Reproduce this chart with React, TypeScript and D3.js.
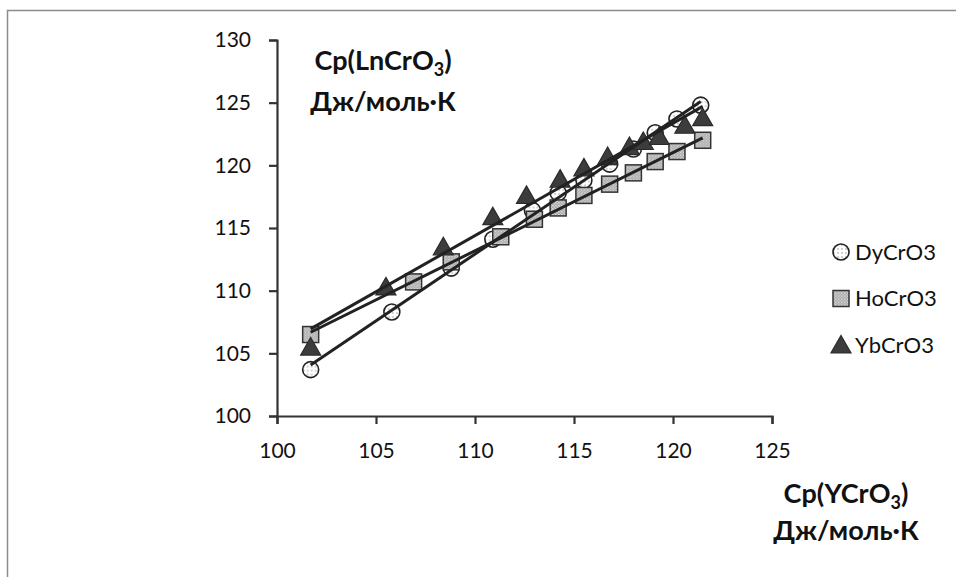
import React, { useEffect, useRef } from 'react';
import * as d3 from 'd3';

// Cp(YCrO3) on x, Cp(LnCrO3) on y
const dyX = [101.7, 105.8, 108.8, 110.9, 112.9, 114.2, 115.5, 116.8, 118.0, 119.1, 120.2, 121.4];
const dyY = [103.7, 108.3, 111.8, 114.1, 116.4, 117.8, 118.8, 120.1, 121.3, 122.6, 123.7, 124.8];

const hoX = [101.7, 106.9, 108.8, 111.3, 113.0, 114.2, 115.5, 116.8, 118.0, 119.1, 120.2, 121.5];
const hoY = [106.5, 110.7, 112.3, 114.3, 115.7, 116.6, 117.6, 118.5, 119.4, 120.3, 121.1, 122.0];

const ybX = [101.7, 105.5, 108.4, 110.9, 112.6, 114.3, 115.5, 116.7, 117.8, 118.5, 119.3, 120.6, 121.5];
const ybY = [105.5, 110.3, 113.5, 115.9, 117.6, 118.9, 119.8, 120.7, 121.5, 121.9, 122.3, 123.2, 123.8];

const seriesNames = ['DyCrO3', 'HoCrO3', 'YbCrO3'];
const xTicks = [100, 105, 110, 115, 120, 125];
const yTicks = [100, 105, 110, 115, 120, 125, 130];

const font = 'Lato, "Open Sans", sans-serif';

// least squares line, like the excel trendline
function fit(xs: number[], ys: number[]) {
  const mx = d3.mean(xs) as number;
  const my = d3.mean(ys) as number;
  let num = 0;
  let den = 0;
  xs.forEach((x, i) => {
    num += (x - mx) * (ys[i] - my);
    den += (x - mx) * (x - mx);
  });
  const b = num / den;
  const a = my - b * mx;
  const x0 = d3.min(xs) as number;
  const x1 = d3.max(xs) as number;
  return [[x0, a + b * x0], [x1, a + b * x1]];
}

const App = () => {
  const svgRef = useRef<SVGSVGElement>(null);

  useEffect(() => {
    const svg = d3.select(svgRef.current);
    svg.selectAll('*').remove();

    const width = 956;
    const height = 577;

    const x = d3.scaleLinear().domain([100, 125]).range([277, 772]);
    const y = d3.scaleLinear().domain([100, 130]).range([416, 40]);

    // patterns for markers
    const defs = svg.append('defs');
    const dots = defs.append('pattern')
      .attr('id', 'dots')
      .attr('patternUnits', 'userSpaceOnUse')
      .attr('width', 4).attr('height', 4);
    dots.append('rect').attr('width', 4).attr('height', 4).attr('fill', '#fff');
    dots.append('circle').attr('cx', 1).attr('cy', 1).attr('r', 0.8).attr('fill', '#9a9a9a');

    const check = defs.append('pattern')
      .attr('id', 'check')
      .attr('patternUnits', 'userSpaceOnUse')
      .attr('width', 3).attr('height', 3);
    check.append('rect').attr('width', 3).attr('height', 3).attr('fill', '#9c9c9c');
    check.append('rect').attr('width', 1.5).attr('height', 1.5).attr('fill', '#e6e6e6');
    check.append('rect').attr('x', 1.5).attr('y', 1.5).attr('width', 1.5).attr('height', 1.5).attr('fill', '#d0d0d0');

    // outer frame
    svg.append('rect')
      .attr('x', 7.5).attr('y', 10.5)
      .attr('width', width + 20).attr('height', height + 20)
      .attr('fill', 'none')
      .attr('stroke', '#8c8c8c')
      .attr('stroke-width', 1.5);

    // axes
    const yAxis = svg.append('g').attr('transform', `translate(${x(100)},0)`)
      .call(d3.axisLeft(y).tickValues(yTicks).tickSize(8).tickSizeOuter(8).tickPadding(18));
    const xAxis = svg.append('g').attr('transform', `translate(0,${y(100)})`)
      .call(d3.axisBottom(x).tickValues(xTicks).tickSize(8).tickSizeOuter(8).tickPadding(19));

    [xAxis, yAxis].forEach((g) => {
      g.selectAll('path, line').attr('stroke', '#333').attr('stroke-width', 2.2);
      g.selectAll('text')
        .attr('fill', '#111')
        .style('font-family', font)
        .style('font-size', '21px');
    });

    const symbol = (name: string, sel: any) => {
      if (name === 'DyCrO3') {
        sel.append('circle').attr('r', 8)
          .attr('fill', 'url(#dots)').attr('stroke', '#222').attr('stroke-width', 1.6);
      } else if (name === 'HoCrO3') {
        sel.append('rect').attr('x', -8).attr('y', -8).attr('width', 16).attr('height', 16)
          .attr('fill', 'url(#check)').attr('stroke', '#333').attr('stroke-width', 1.5);
      } else {
        sel.append('path').attr('d', 'M0,-9.5 L10,8 L-10,8 Z')
          .attr('fill', '#3c3c3c').attr('stroke', '#2a2a2a').attr('stroke-width', 1.2);
      }
    };

    const series = [
      { name: seriesNames[0], xs: dyX, ys: dyY },
      { name: seriesNames[1], xs: hoX, ys: hoY },
      { name: seriesNames[2], xs: ybX, ys: ybY },
    ];

    const line = d3.line<number[]>().x((d) => x(d[0])).y((d) => y(d[1]));

    series.forEach((s) => {
      const pts = s.xs.map((v, i) => [v, s.ys[i]]);
      pts.forEach((p) => {
        const g = svg.append('g').attr('transform', `translate(${x(p[0])},${y(p[1])})`);
        symbol(s.name, g);
      });
    });

    // trend lines on top of markers
    series.forEach((s) => {
      svg.append('path')
        .attr('d', line(fit(s.xs, s.ys)))
        .attr('fill', 'none')
        .attr('stroke', '#222')
        .attr('stroke-width', 3);
    });

    // legend
    series.forEach((s, i) => {
      const ly = 252 + i * 46.5;
      const g = svg.append('g').attr('transform', `translate(841,${ly})`);
      symbol(s.name, g);
      g.append('text')
        .attr('x', 14).attr('y', 0).attr('dy', '0.36em')
        .attr('fill', '#111')
        .style('font-family', font)
        .style('font-size', '22px')
        .text(s.name);
    });

    // axis titles
    const title = (tx: number, ty: number, gap: number, main: string) => {
      const t = svg.append('text')
        .attr('x', tx).attr('y', ty)
        .attr('text-anchor', 'middle')
        .attr('fill', '#111')
        .style('font-family', font)
        .style('font-size', '27px')
        .style('font-weight', 'bold');
      t.append('tspan').text(`Cp(${main}CrO`);
      t.append('tspan').attr('dy', 6).style('font-size', '18px').text('3');
      t.append('tspan').attr('dy', -6).text(')');
      svg.append('text')
        .attr('x', tx).attr('y', ty + gap)
        .attr('text-anchor', 'middle')
        .attr('fill', '#111')
        .style('font-family', font)
        .style('font-size', '27px')
        .style('font-weight', 'bold')
        .text('Дж/моль·К');
    };
    title(383, 70, 41, 'Ln');
    title(846, 503, 37, 'Y');
  }, []);

  return (
    <svg
      ref={svgRef}
      width={956}
      height={577}
      style={{ position: 'absolute', left: 0, top: 0, background: '#fff' }}
    />
  );
};

export default App;
